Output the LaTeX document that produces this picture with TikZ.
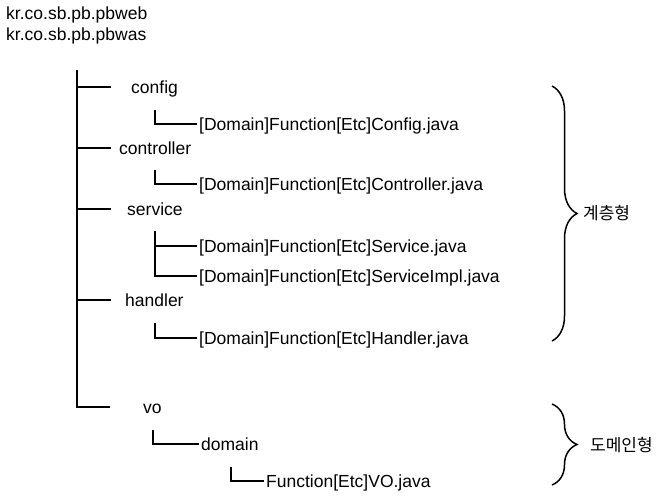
\documentclass[tikz,border=0pt]{standalone}
\usepackage{fontspec}
\setmainfont{Liberation Sans}
\newfontfamily\krfont{Noto Sans CJK KR}
\usetikzlibrary{decorations.pathreplacing}

\begin{document}
\begin{tikzpicture}[
      x = 1pt, y = -1pt,
      pkg/.style = {
        anchor = base west, inner sep = 0pt,
        font = \fontsize{17.5}{20}\selectfont
      }, item/.style = {
        anchor = west, inner xsep = 2pt, inner ysep = 0pt,
        text height = 12pt, text depth = 0pt,
        font = \fontsize{17.5}{20}\selectfont
      }, group/.style = {
        anchor = west, inner sep = 0pt,
        font = \krfont\fontsize{17}{20}\selectfont
      }
    ]
      \tikzset{trunk/.style={line width=1.6pt},
               branch/.style={line width=1.3pt},
               curly/.style={line width=1.5pt,decorate,
                 decoration={brace,amplitude=25pt,aspect=0.5}}}
      \useasboundingbox (0,0) rectangle (663,499);

      % packages
      \node[pkg] (web) at (6,19) {kr.co.sb.pb.pbweb};
      \node[pkg] (was) at (6,40) {kr.co.sb.pb.pbwas};

      % first level
      \coordinate (root) at (77,70);
      \node[item] (config)     at (129,87)  {config};
      \node[item] (controller) at (117,148) {controller};
      \node[item] (service)    at (125,209) {service};
      \node[item] (handler)    at (123,300) {handler};
      \node[item] (vo)         at (141,407) {vo};
      \coordinate (config-end)     at (111,87);
      \coordinate (controller-end) at (111,148);
      \coordinate (service-end)    at (111,209);
      \coordinate (handler-end)    at (111,300);
      \coordinate (vo-end)         at (110,407);
      \draw[trunk] (root) |- (vo-end);
      \foreach \d in {config,controller,service,handler}
        \draw[branch] (root |- \d-end) -- (\d-end);

      % files
      \node[item] (config-java)     at (197,124) {[Domain]Function[Etc]Config.java};
      \node[item] (controller-java) at (197,184) {[Domain]Function[Etc]Controller.java};
      \node[item] (service-java)    at (197,246) {[Domain]Function[Etc]Service.java};
      \node[item] (impl-java)       at (197,276) {[Domain]Function[Etc]ServiceImpl.java};
      \node[item] (handler-java)    at (197,338) {[Domain]Function[Etc]Handler.java};
      \coordinate (config-sub)     at (155,110);
      \coordinate (controller-sub) at (155,170);
      \coordinate (service-sub)    at (155,231);
      \coordinate (handler-sub)    at (155,323);
      \draw[branch] (config-sub) |- (config-java);
      \draw[branch] (controller-sub) |- (controller-java);
      \draw[branch] (service-sub) |- (impl-java);
      \draw[branch] (service-sub |- service-java) -- (service-java);
      \draw[branch] (handler-sub) |- (handler-java);

      % vo
      \node[item] (domain)  at (199,444) {domain};
      \node[item] (vo-java) at (264,481) {Function[Etc]VO.java};
      \coordinate (vo-sub)     at (153,430);
      \coordinate (domain-sub) at (231,467);
      \draw[branch] (vo-sub) |- (domain);
      \draw[branch] (domain-sub) |- (vo-java);

      % groups
      \coordinate (layer-top)  at (552,86);
      \coordinate (layer-bot)  at (552,341);
      \coordinate (domain-top) at (552,404);
      \coordinate (domain-bot) at (552,485);
      \draw[curly] (layer-top) -- (layer-bot);
      \draw[curly] (domain-top) -- (domain-bot);
      \node[group] (layered) at (583,213) {계층형};
      \node[group] (domained) at (590,445) {도메인형};
    \end{tikzpicture}
\end{document}
